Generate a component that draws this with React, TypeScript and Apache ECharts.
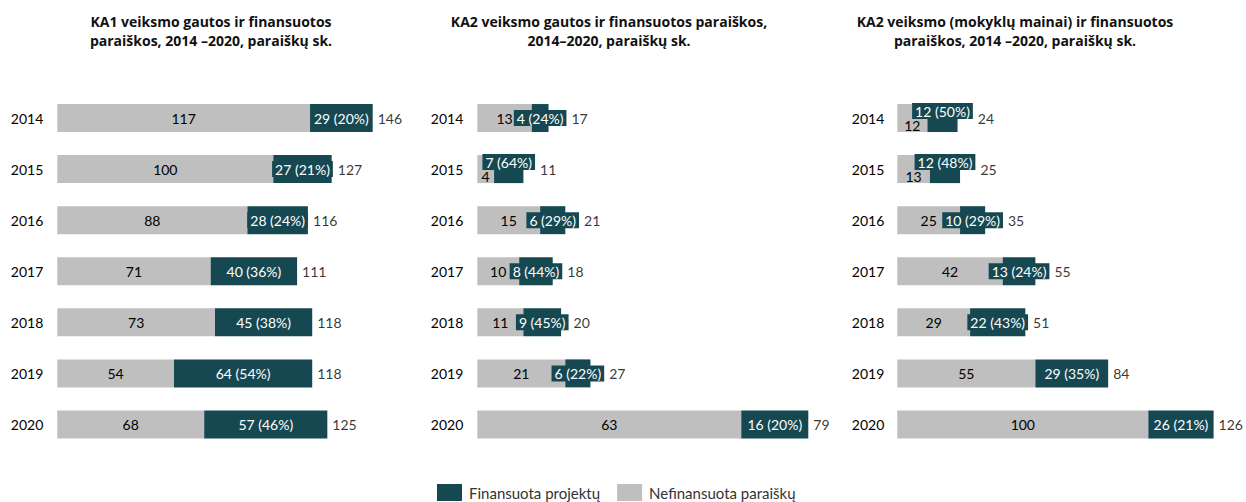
import React, { useEffect, useRef } from "react";
import * as echarts from "echarts";

const years = ["2014", "2015", "2016", "2017", "2018", "2019", "2020"];

const ka1Fin = [29, 27, 28, 40, 45, 64, 57];
const ka1Nefin = [117, 100, 88, 71, 73, 54, 68];
const ka1Pct = [20, 21, 24, 36, 38, 54, 46];

const ka2Fin = [4, 7, 6, 8, 9, 6, 16];
const ka2Nefin = [13, 4, 15, 10, 11, 21, 63];
const ka2Pct = [24, 64, 29, 44, 45, 22, 20];

const ka2mFin = [12, 12, 10, 13, 22, 29, 26];
const ka2mNefin = [12, 13, 25, 42, 29, 55, 100];
const ka2mPct = [50, 48, 29, 24, 43, 35, 21];

const titles = [
  "KA1 veiksmo gautos ir finansuotos\nparaiškos, 2014 \u20132020, paraiškų sk.",
  "KA2 veiksmo gautos ir finansuotos paraiškos,\n2014\u20132020, paraiškų sk.",
  "KA2 veiksmo (mokyklų mainai) ir finansuotos\nparaiškos, 2014 \u20132020, paraiškų sk.",
];

const FIN_NAME = "Finansuota projektų";
const NEFIN_NAME = "Nefinansuota paraiškų";

const DARK = "#164852";
const GREY = "#BFBFBF";
const FONT = "Lato";
const TITLE_FONT = "Open Sans";

// layout config (not data)
const panelLayout = [
  { left: 57.3, width: 315.4, titleX: 206, labelMargin: 14 },
  { left: 477.3, width: 331, titleX: 604, labelMargin: 14 },
  { left: 897.3, width: 316.3, titleX: 1010, labelMargin: 13 },
];
// which year indices have labels nudged vertically, per panel
const nudged = [[], [1], [0, 1]];

function measure(text: string, size: number) {
  const c = document.createElement("canvas");
  const ctx = c.getContext("2d")!;
  ctx.font = `${size}px ${FONT}`;
  return ctx.measureText(text).width;
}

export default function App() {
  const ref = useRef<HTMLDivElement>(null);
  useEffect(() => {
    if (!ref.current) return;
    const chart = echarts.init(ref.current, undefined, { renderer: "svg" });
    const panels = [
      { fin: ka1Fin, nefin: ka1Nefin, pct: ka1Pct },
      { fin: ka2Fin, nefin: ka2Nefin, pct: ka2Pct },
      { fin: ka2mFin, nefin: ka2mNefin, pct: ka2mPct },
    ];
    const grids: any[] = [];
    const xAxes: any[] = [];
    const yAxes: any[] = [];
    const series: any[] = [];
    const titleOpts: any[] = [];
    panels.forEach((p, i) => {
      const L = panelLayout[i];
      const totals = p.fin.map((f, k) => f + p.nefin[k]);
      const max = Math.max(...totals);
      const scale = L.width / max;
      grids.push({ left: L.left, width: L.width, top: 92.5, height: 357.5 });
      xAxes.push({ type: "value", gridIndex: i, min: 0, max, show: false, splitLine: { show: false } });
      yAxes.push({
        type: "category",
        gridIndex: i,
        data: years,
        inverse: true,
        axisLine: { show: false },
        axisTick: { show: false },
        axisLabel: { fontSize: 14, color: "#000", margin: L.labelMargin, fontFamily: FONT },
      });
      titleOpts.push({
        text: titles[i],
        left: L.titleX,
        textAlign: "center",
        top: 7,
        textStyle: { fontSize: 14, fontWeight: "bold", lineHeight: 19, color: "#111", fontFamily: TITLE_FONT },
      });
      series.push({
        type: "bar",
        name: NEFIN_NAME,
        stack: "s" + i,
        xAxisIndex: i,
        yAxisIndex: i,
        barWidth: 28,
        itemStyle: { color: GREY },
        data: p.nefin.map((v, k) => ({
          value: v,
          label: nudged[i].includes(k) ? { offset: [0, 7] } : undefined,
        })),
        label: { show: true, position: "inside", color: "#000", fontSize: 14, fontFamily: FONT },
      });
      series.push({
        type: "bar",
        name: FIN_NAME,
        stack: "s" + i,
        xAxisIndex: i,
        yAxisIndex: i,
        barWidth: 28,
        itemStyle: { color: DARK },
        data: p.fin.map((v, k) => ({
          value: v,
          label: nudged[i].includes(k) ? { offset: [0, -7] } : undefined,
        })),
        label: {
          show: true,
          position: "inside",
          color: "#fff",
          fontSize: 14,
          fontFamily: FONT,
          backgroundColor: DARK,
          padding: [0, 3],
          lineHeight: 16,
          formatter: (prm: any) => `${p.fin[prm.dataIndex]} (${p.pct[prm.dataIndex]}%)`,
        },
      });
      series.push({
        type: "scatter",
        name: "total" + i,
        xAxisIndex: i,
        yAxisIndex: i,
        symbolSize: 0,
        silent: true,
        data: totals.map((t, k) => {
          const boxW = measure(`${p.fin[k]} (${p.pct[k]}%)`, 14) + 6;
          const segW = p.fin[k] * scale;
          const extra = Math.max(0, boxW / 2 - segW / 2);
          return {
            value: [t, years[k]],
            label: { distance: extra + 5 },
          };
        }),
        label: {
          show: true,
          position: "right",
          color: "#000",
          fontSize: 14,
          fontFamily: FONT,
          formatter: (prm: any) => String(prm.value[0]),
        },
      });
    });
    chart.setOption({
      animation: false,
      textStyle: { fontFamily: FONT },
      title: titleOpts,
      grid: grids,
      xAxis: xAxes,
      yAxis: yAxes,
      legend: {
        data: [FIN_NAME, NEFIN_NAME],
        top: 479,
        left: 432,
        icon: "rect",
        itemWidth: 25,
        itemHeight: 17,
        itemGap: 17,
        textStyle: { fontSize: 15, color: "#333", fontFamily: FONT, padding: [0, 0, 0, 2] },
      },
      series,
    });
    return () => chart.dispose();
  }, []);
  return (
    <div
      ref={ref}
      style={{ position: "fixed", left: 0, top: 0, width: 1246, height: 502, background: "#fff" }}
    />
  );
}
